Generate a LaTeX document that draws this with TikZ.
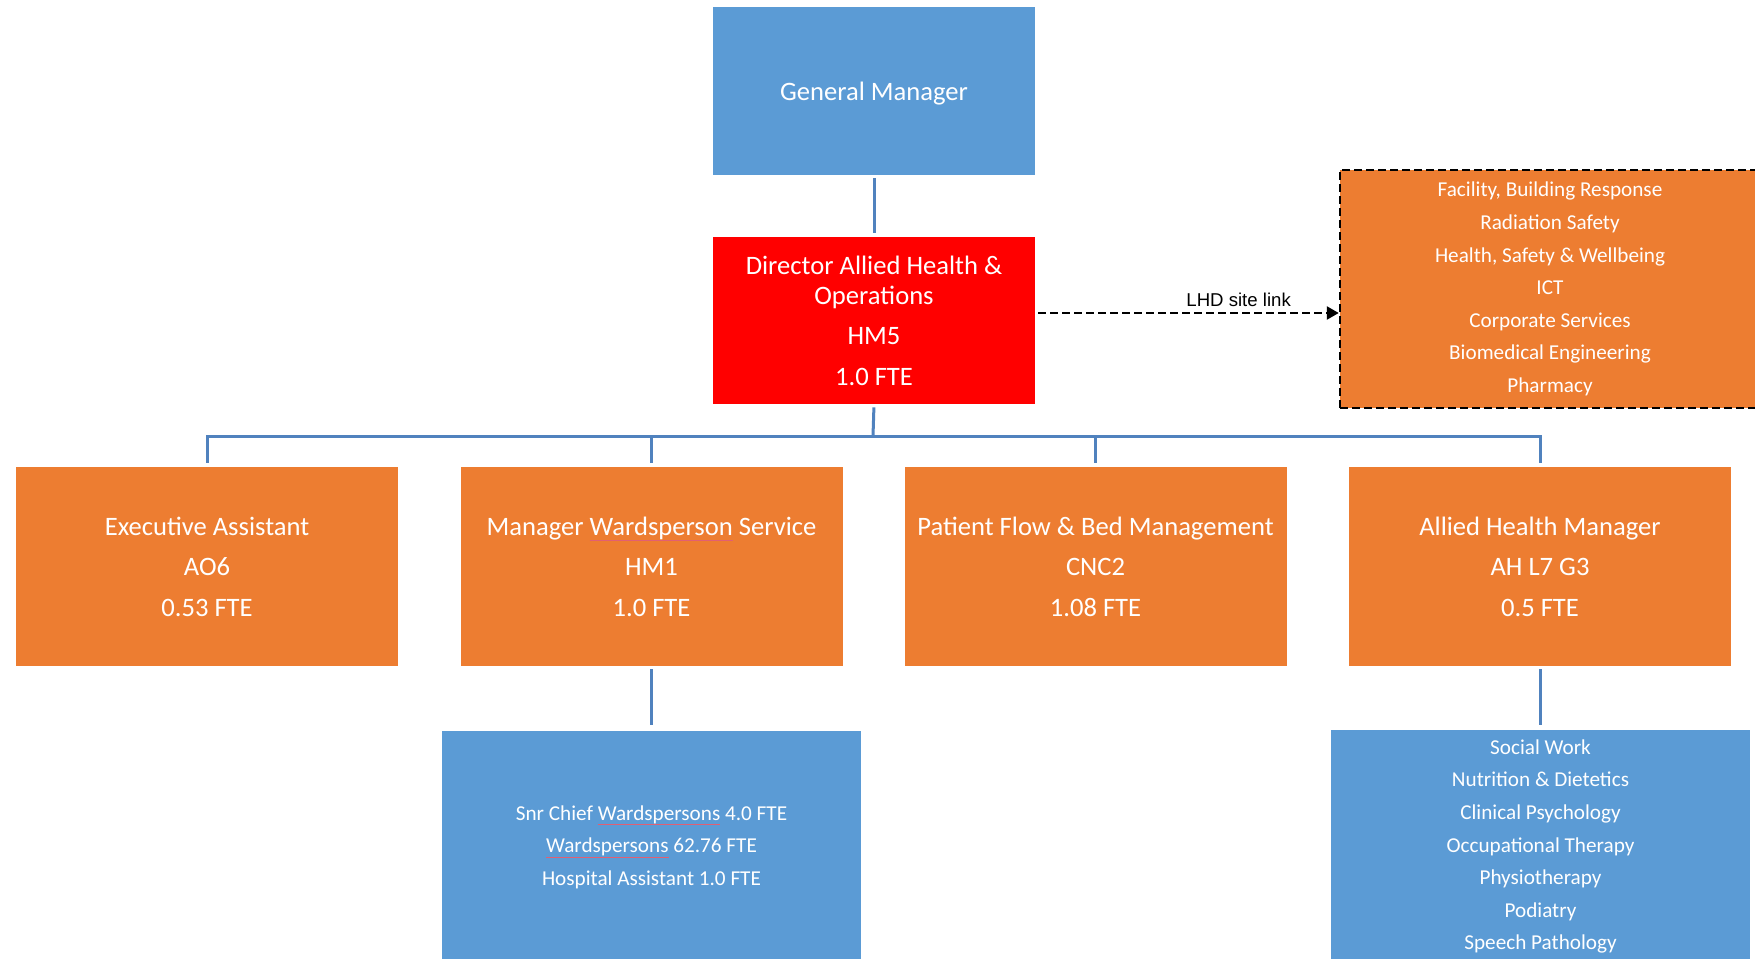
\documentclass[tikz,border=0pt]{standalone}
\usepackage{fontspec}
\setmainfont{Carlito}
\newfontfamily\labelfont{Liberation Sans}
\usetikzlibrary{arrows.meta}

\definecolor{boxblue}{HTML}{5B9BD5}
\definecolor{boxorange}{HTML}{ED7D31}
\definecolor{boxred}{HTML}{FF0000}
\definecolor{linkblue}{RGB}{80,130,190}
\definecolor{spellred}{RGB}{225,95,115}

% thin red underline under a word, as set by a spell checker
\newsavebox{\spellbox}
\newcommand{\spellmark}[1]{\sbox{\spellbox}{#1}\rlap{\color{spellred}\raisebox{-2.6pt}{\rule{\wd\spellbox}{0.45pt}}}\usebox{\spellbox}}

\tikzset{
  box/.style={rectangle, inner sep=0pt, text=white, align=center},
  bigtext/.style={font=\fontsize{13.3}{20.2}\selectfont},
  smalltext/.style={font=\fontsize{10.6}{16.3}\selectfont},
  bluebox/.style={box, fill=boxblue},
  orangebox/.style={box, fill=boxorange, bigtext, minimum width=191pt, minimum height=99.5pt},
  conn/.style={draw=linkblue, line width=1.5pt},
  link/.style={draw=black, line width=1.25pt, dash pattern=on 4pt off 2pt,
    -{Triangle[length=6pt,width=6.5pt]}},
}

\begin{document}
\begin{tikzpicture}[x=0.5pt, y=-0.5pt]
  \clip (0,0) rectangle (1755,958);
  \fill[white] (0,0) rectangle (1755,958);

  % top of the chart
  \node[bluebox, bigtext, minimum width=161pt, minimum height=84pt] (gm) at (874,91) {\raisebox{-4.9pt}[0pt][0pt]{General Manager}};
  \node[box, fill=boxred, bigtext, minimum width=161pt, minimum height=83.5pt] (dir) at (874,320.5)
    {Director Allied Health \&\\[-5.2pt] Operations\\HM5\\1.0 FTE};

  % services reached through the site link
  \node[box, fill=boxorange, smalltext, draw=black, line width=1.25pt, dash pattern=on 4pt off 2pt,
        minimum width=210pt, minimum height=119pt] (ext) at (1550,289)
    {Facility, Building Response\\Radiation Safety\\Health, Safety \& Wellbeing\\ICT\\Corporate Services\\Biomedical Engineering\\Pharmacy};

  % direct reports
  \node[orangebox] (ea)  at (207,566.5)   {Executive Assistant\\AO6\\0.53 FTE};
  \node[orangebox] (mws) at (651.5,566.5) {Manager \spellmark{Wardsperson} Service\\HM1\\1.0 FTE};
  \node[orangebox] (pf)  at (1095.5,566.5){Patient Flow \& Bed Management\\CNC2\\1.08 FTE};
  \node[orangebox] (ahm) at (1540,566.5)  {Allied Health Manager\\AH L7 G3\\0.5 FTE};

  % teams under the managers
  \node[bluebox, smalltext, minimum width=209.5pt, minimum height=116.5pt] (ward) at (651.5,847)
    {Snr Chief \spellmark{Wardspersons} 4.0 FTE\\\spellmark{Wardspersons} 62.76 FTE\\Hospital Assistant 1.0 FTE};
  \node[bluebox, smalltext, minimum width=209.5pt, minimum height=116.5pt] (ah) at (1540.5,846.5)
    {Social Work\\Nutrition \& Dietetics\\Clinical Psychology\\Occupational Therapy\\Physiotherapy\\Podiatry\\Speech Pathology};

  % reporting lines
  \draw[conn, shorten <=1.5pt, shorten >=2pt] (gm) -- (dir);
  \coordinate (bus) at (873,436);
  \draw[conn, shorten <=1.5pt] (dir.south) -- (bus);
  \draw[conn, shorten >=2pt] (bus) -| (ea.north);
  \draw[conn, shorten >=2pt] (bus) -| (mws.north);
  \draw[conn, shorten >=2pt] (bus) -| (pf.north);
  \draw[conn, shorten >=2pt] (bus) -| (ahm.north);
  \draw[conn, shorten <=1.5pt, shorten >=2.5pt] (mws) -- (ward.north -| mws.south);
  \draw[conn, shorten <=1.5pt, shorten >=2.5pt] (ahm.south) -- (ahm.south |- ah.north);

  % dashed site link
  \coordinate (lk) at (0,313);
  \draw[link, shorten <=1.5pt] (dir.east |- lk) -- (ext.west |- lk)
    node[pos=0.67, above=-0.6pt, font=\labelfont\fontsize{9.3}{11}\selectfont, text=black] {LHD site link};
\end{tikzpicture}
\end{document}
